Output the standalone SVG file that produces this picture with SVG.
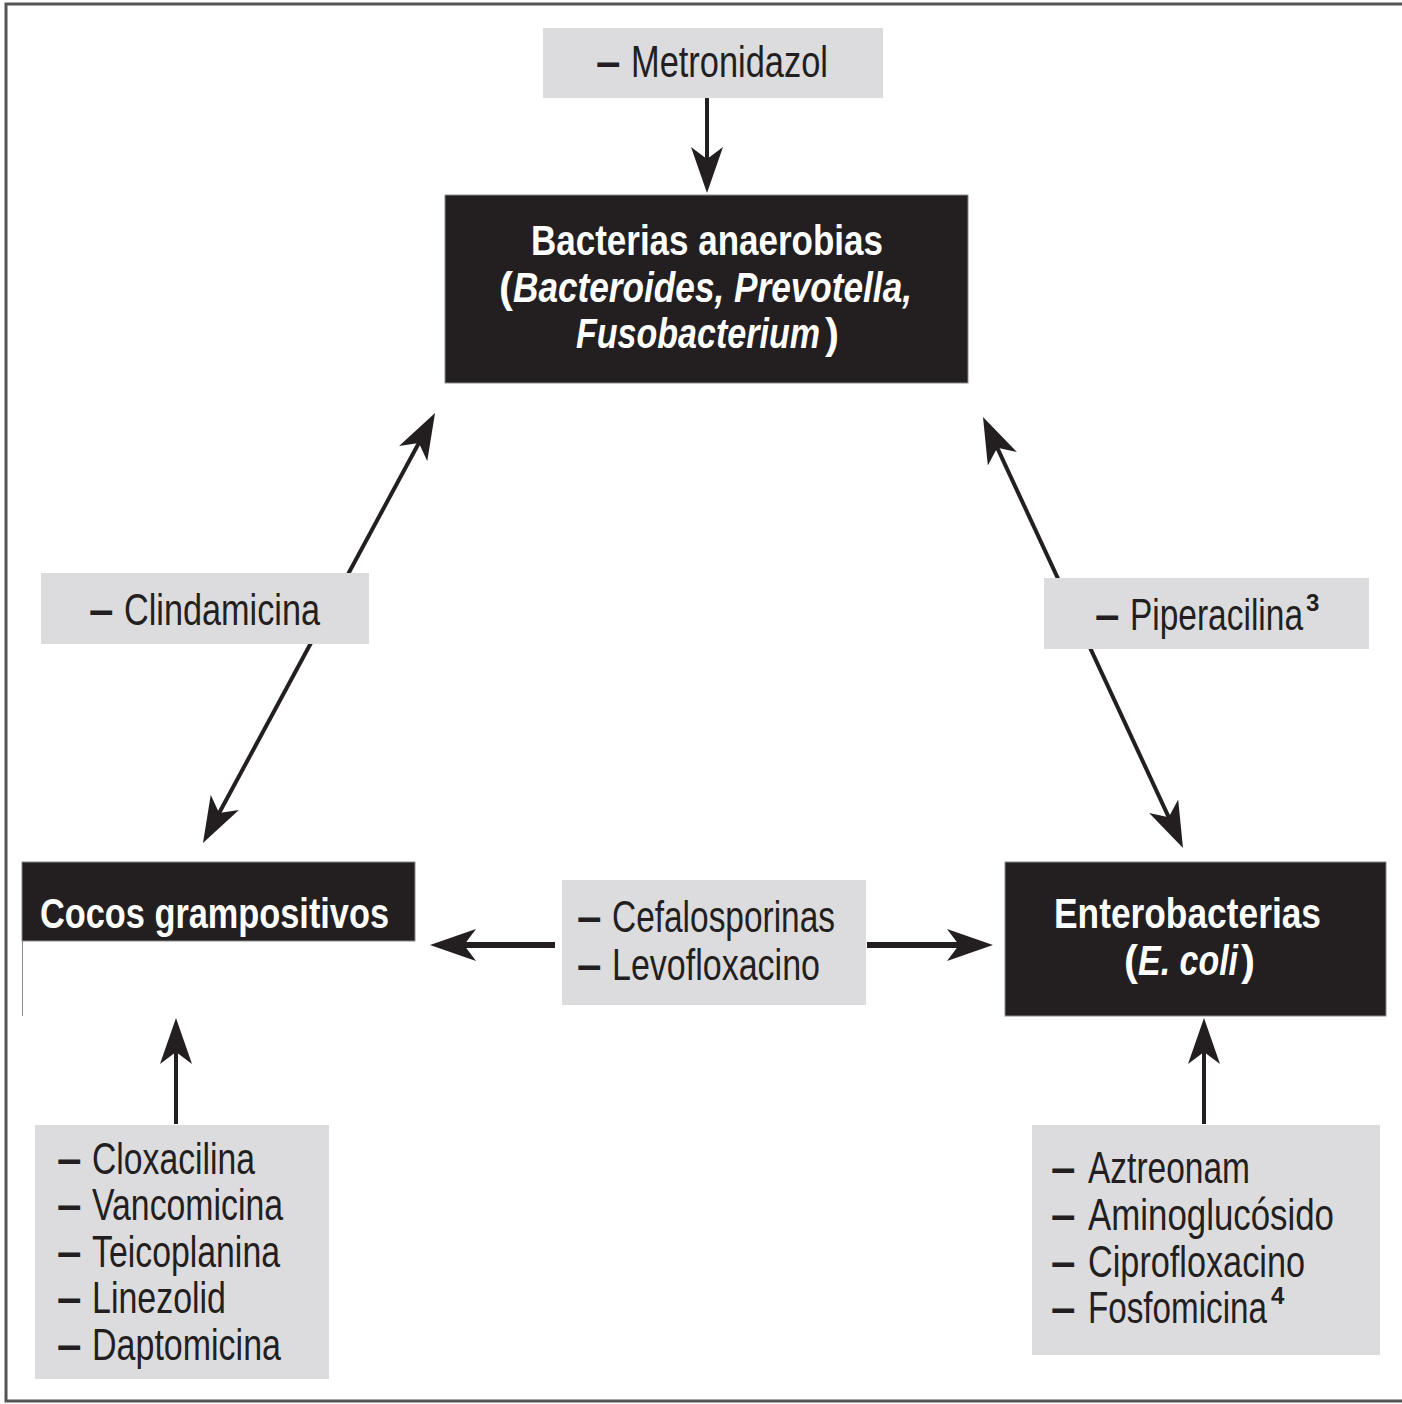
<svg xmlns="http://www.w3.org/2000/svg" width="1402" height="1404" viewBox="0 0 1402 1404">
<style>
.gbox{fill:#dcdcde}
.bbox{fill:#231f20;stroke:#8a8a8a;stroke-width:1}
.t{font-family:"Liberation Sans Narrow","Liberation Sans",Arial,sans-serif;font-size:44px;fill:#231f20}
.d{font-family:"Liberation Sans Narrow","Liberation Sans",Arial,sans-serif;font-size:44px;font-weight:bold;fill:#231f20}
.sup{font-family:"Liberation Sans Narrow","Liberation Sans",Arial,sans-serif;font-size:24px;font-weight:bold;fill:#231f20}
.w{font-family:"Liberation Sans Narrow","Liberation Sans",Arial,sans-serif;font-size:42px;font-weight:bold;fill:#ffffff}
.i{font-style:italic}
.c{stroke:#231f20;stroke-width:4;fill:none}
.ch{stroke:#231f20;stroke-width:6;fill:none}
</style>
<defs>
<marker id="ah" viewBox="0 0 46 32" refX="31" refY="16" markerWidth="46" markerHeight="32" markerUnits="userSpaceOnUse" orient="auto-start-reverse">
<path d="M46,16 L0,0 L12,16 L0,32 Z" fill="#231f20"/>
</marker>
</defs>
<rect width="1402" height="1404" fill="#ffffff"/>
<path d="M1402,4 H6 V1401 H1402" fill="none" stroke="#555555" stroke-width="3"/>

<g id="connectors">
<line class="c" x1="707" y1="97" x2="707" y2="178" marker-end="url(#ah)"/>
<line class="c" x1="210.1" y1="829.8" x2="427.9" y2="426.2" marker-start="url(#ah)" marker-end="url(#ah)"/>
<line class="c" x1="989.3" y1="430.6" x2="1176.7" y2="834.4" marker-start="url(#ah)" marker-end="url(#ah)"/>
<line class="ch" x1="555" y1="945" x2="445" y2="945" marker-end="url(#ah)"/>
<line class="ch" x1="867" y1="945" x2="978" y2="945" marker-end="url(#ah)"/>
<line class="c" x1="176" y1="1124" x2="176" y2="1033" marker-end="url(#ah)"/>
<line class="c" x1="1204" y1="1124" x2="1204" y2="1033" marker-end="url(#ah)"/>
</g>

<g id="metronidazol">
<rect class="gbox" x="543" y="28" width="340" height="70"/>
<text class="d" x="596" y="77">–</text>
<text class="t" x="631" y="77" textLength="197" lengthAdjust="spacingAndGlyphs">Metronidazol</text>
</g>

<g id="anaerobias">
<rect class="bbox" x="445" y="195" width="523" height="188"/>
<text class="w" x="531" y="255" textLength="352" lengthAdjust="spacingAndGlyphs">Bacterias anaerobias</text>
<text class="w" x="499" y="302">(</text>
<text class="w i" x="513" y="302" textLength="399" lengthAdjust="spacingAndGlyphs">Bacteroides, Prevotella,</text>
<text class="w i" x="576" y="348" textLength="244" lengthAdjust="spacingAndGlyphs">Fusobacterium</text>
<text class="w" x="825" y="348">)</text>
</g>

<g id="clindamicina">
<rect class="gbox" x="41" y="573" width="328" height="71"/>
<text class="d" x="89" y="625">–</text>
<text class="t" x="124" y="625" textLength="196" lengthAdjust="spacingAndGlyphs">Clindamicina</text>
</g>

<g id="piperacilina">
<rect class="gbox" x="1044" y="578" width="325" height="71"/>
<text class="d" x="1095" y="630">–</text>
<text class="t" x="1130" y="630" textLength="173" lengthAdjust="spacingAndGlyphs">Piperacilina</text>
<text class="sup" x="1306" y="611">3</text>
</g>

<g id="cocos">
<rect class="bbox" x="22" y="862" width="393" height="79"/>
<line x1="22.5" y1="941" x2="22.5" y2="1016" stroke="#8a8a8a" stroke-width="1"/>
<text class="w" x="40" y="928" textLength="349" lengthAdjust="spacingAndGlyphs">Cocos grampositivos</text>
</g>

<g id="cefalosporinas">
<rect class="gbox" x="562" y="880" width="304" height="125"/>
<text class="d" x="577" y="932">–</text>
<text class="t" x="612" y="932" textLength="223" lengthAdjust="spacingAndGlyphs">Cefalosporinas</text>
<text class="d" x="577" y="980">–</text>
<text class="t" x="612" y="980" textLength="208" lengthAdjust="spacingAndGlyphs">Levofloxacino</text>
</g>

<g id="enterobacterias">
<rect class="bbox" x="1005" y="862" width="381" height="154"/>
<text class="w" x="1054" y="928" textLength="267" lengthAdjust="spacingAndGlyphs">Enterobacterias</text>
<text class="w" x="1124" y="975">(</text>
<text class="w i" x="1138" y="975" textLength="100" lengthAdjust="spacingAndGlyphs">E. coli</text>
<text class="w" x="1241" y="975">)</text>
</g>

<g id="cloxacilina">
<rect class="gbox" x="35" y="1125" width="294" height="254"/>
<text class="d" x="57" y="1174">–</text>
<text class="t" x="92" y="1174" textLength="163" lengthAdjust="spacingAndGlyphs">Cloxacilina</text>
<text class="d" x="57" y="1220">–</text>
<text class="t" x="92" y="1220" textLength="191" lengthAdjust="spacingAndGlyphs">Vancomicina</text>
<text class="d" x="57" y="1267">–</text>
<text class="t" x="92" y="1267" textLength="188" lengthAdjust="spacingAndGlyphs">Teicoplanina</text>
<text class="d" x="57" y="1313">–</text>
<text class="t" x="92" y="1313" textLength="134" lengthAdjust="spacingAndGlyphs">Linezolid</text>
<text class="d" x="57" y="1360">–</text>
<text class="t" x="92" y="1360" textLength="189" lengthAdjust="spacingAndGlyphs">Daptomicina</text>
</g>

<g id="aztreonam">
<rect class="gbox" x="1032" y="1125" width="348" height="230"/>
<text class="d" x="1051" y="1183">–</text>
<text class="t" x="1088" y="1183" textLength="162" lengthAdjust="spacingAndGlyphs">Aztreonam</text>
<text class="d" x="1051" y="1230">–</text>
<text class="t" x="1088" y="1230" textLength="246" lengthAdjust="spacingAndGlyphs">Aminoglucósido</text>
<text class="d" x="1051" y="1277">–</text>
<text class="t" x="1088" y="1277" textLength="217" lengthAdjust="spacingAndGlyphs">Ciprofloxacino</text>
<text class="d" x="1051" y="1323">–</text>
<text class="t" x="1088" y="1323" textLength="179" lengthAdjust="spacingAndGlyphs">Fosfomicina</text>
<text class="sup" x="1271" y="1304">4</text>
</g>
</svg>
